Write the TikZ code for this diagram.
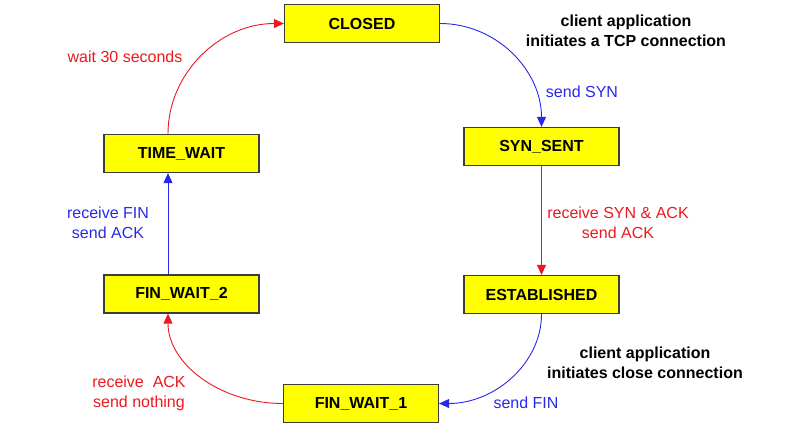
\documentclass[tikz,border=0pt]{standalone}
\usepackage{fontspec}
\setmainfont{Liberation Sans}
\usetikzlibrary{arrows.meta,calc}
\definecolor{boxfill}{RGB}{255,255,0}
\definecolor{boxline}{RGB}{60,60,60}
\definecolor{tred}{RGB}{235,25,30}
\definecolor{tblue}{RGB}{40,40,235}
\tikzset{
  statebox/.style={draw=boxline, line width=1.2bp, fill=boxfill, minimum width=155bp, minimum height=38bp, inner sep=0pt, font=\fontsize{16bp}{20bp}\selectfont\bfseries},
  lbl/.style={anchor=north, inner sep=0pt, align=center, font=\fontsize{16bp}{20bp}\selectfont},
  redlbl/.style={lbl, text=tred},
  bluelbl/.style={lbl, text=tblue},
  boldlbl/.style={lbl, font=\fontsize{16bp}{20bp}\selectfont\bfseries},
  redarr/.style={draw=tred, line width=0.9bp, -{Triangle[length=10bp,width=9bp]}},
  bluearr/.style={draw=tblue, line width=0.9bp, -{Triangle[length=10bp,width=9bp]}}
}
\begin{document}
\begin{tikzpicture}[x=1bp,y=-1bp]
\useasboundingbox (0,0) rectangle (795,427);
\node[statebox] (closed) at (362,23.5) {CLOSED};
\node[statebox] (tw) at (181.5,153.5) {TIME\_WAIT};
\node[statebox] (fw2) at (181.5,294) {FIN\_WAIT\_2};
\node[statebox] (ss) at (541.5,146.5) {SYN\_SENT};
\node[statebox] (est) at (541.5,294.5) {ESTABLISHED};
\node[statebox] (fw1) at (361,403.5) {FIN\_WAIT\_1};

\draw[bluearr] (closed.east) .. controls +(56,0) and +(0,-57) .. (ss.north);
\draw[redarr] (ss.south) -- (est.north);
\draw[bluearr] (est.south) .. controls +(0,49) and +(56,0) .. (fw1.east);
\draw[redarr] (fw1.west) .. controls +(-63,0) and +(0,50) .. ([xshift=-13.5bp]fw2.south);
\draw[bluearr] ([xshift=-13.5bp]fw2.north) -- ([xshift=-13.5bp]tw.south);
\draw[redarr] ([xshift=-13.5bp]tw.north) .. controls +(0,-61) and +(-64,0) .. (closed.west);

\node[redlbl] (l1) at (125,51) {wait 30 seconds};
\node[bluelbl] (l2) at (582,86) {send SYN};
\node[boldlbl] (l3) at (626,15) {client application\\initiates a TCP connection};
\node[redlbl] (l4) at (618,207) {receive SYN \& ACK\\send ACK};
\node[bluelbl] (l5) at (108,207) {receive FIN\\send ACK};
\node[boldlbl] (l6) at (645,347) {client application\\initiates close connection};
\node[bluelbl] (l7) at (526,397) {send FIN};
\node[redlbl] (l8) at (139,376) {receive\ \ ACK\\send nothing};
\end{tikzpicture}
\end{document}
